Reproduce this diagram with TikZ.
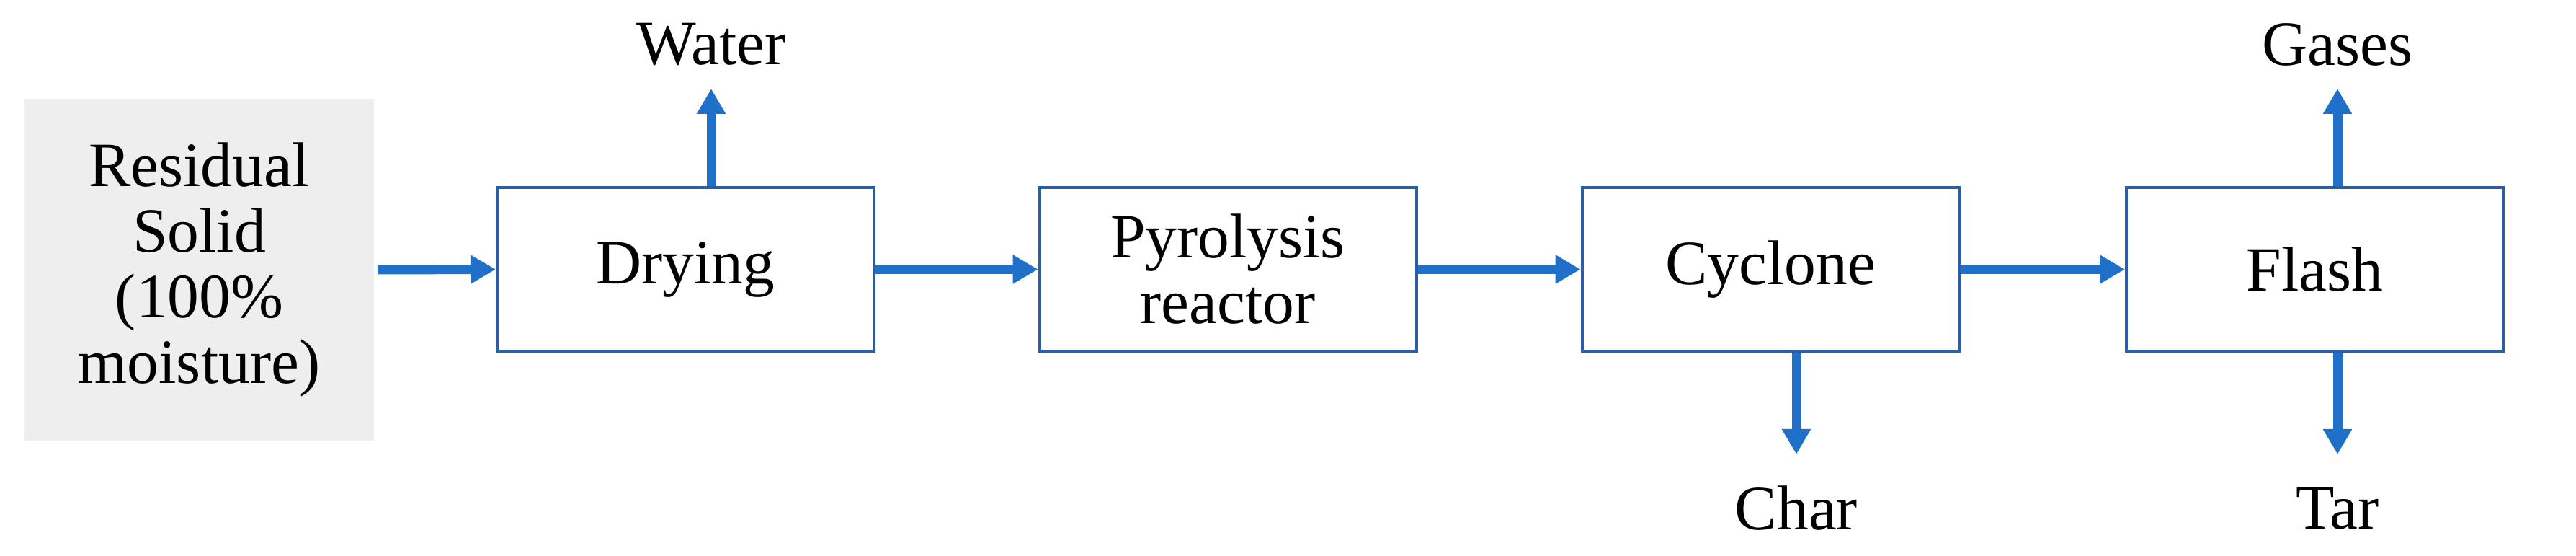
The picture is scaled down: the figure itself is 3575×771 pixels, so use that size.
\documentclass[tikz,border=0pt]{standalone}
\usepackage{fontspec}
\setmainfont{Liberation Serif}
\usetikzlibrary{arrows.meta}
\definecolor{arr}{HTML}{1F70C8}
\definecolor{bord}{HTML}{2A5FA8}
\definecolor{gbox}{HTML}{EEEEEE}
\begin{document}
\begin{tikzpicture}[x=0.2pt,y=-0.2pt,
  box/.style={draw=bord,line width=0.8pt,minimum width=104.6pt,minimum height=45.4pt,align=center,inner sep=0pt,font=\fontsize{17.5}{18.2}\selectfont},
  lbl/.style={inner sep=0pt,font=\fontsize{17.5}{18.2}\selectfont},
  flow/.style={draw=arr,line width=2.6pt,-{Triangle[length=7pt,width=7.6pt]}}]
\useasboundingbox (0,0) rectangle (3575,771);
\node[fill=gbox,minimum width=97pt,minimum height=94.8pt,align=center,inner sep=0pt,font=\fontsize{17.5}{18.2}\selectfont] (rs) at (276.5,374) {Residual\\Solid\\(100\%\\moisture)};
\node[box] (dry) at (951.5,373.5) {Drying};
\node[box] (pyr) at (1704,373.5) {Pyrolysis\\reactor};
\node[box] (cyc) at (2457,373.5) {Cyclone};
\node[box] (fl) at (3212.5,373.5) {Flash};
\node[lbl] (wat) at (987,62) {Water};
\node[lbl] (gas) at (3244,62) {Gases};
\node[lbl] (char) at (2493,705) {Char};
\node[lbl] (tar) at (3244,705) {Tar};
\coordinate (wt) at (987,123);
\coordinate (gt) at (3244,123);
\coordinate (cb) at (2493,630);
\coordinate (tb) at (3244,630);
\draw[flow] (rs.east) ++(4,0) -- (dry.west);
\draw[flow] (dry) -- (pyr);
\draw[flow] (pyr) -- (cyc);
\draw[flow] (cyc) -- (fl);
\draw[flow] (dry.north -| wt) -- (wt);
\draw[flow] (fl.north -| gt) -- (gt);
\draw[flow] (cyc.south -| cb) -- (cb);
\draw[flow] (fl.south -| tb) -- (tb);
\end{tikzpicture}
\end{document}
